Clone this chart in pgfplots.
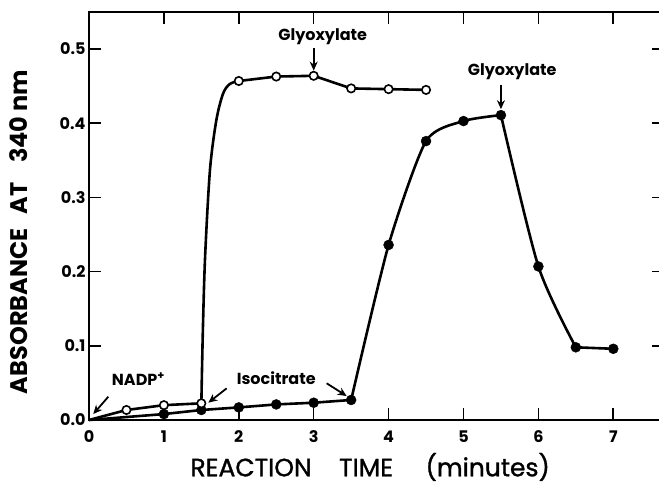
\documentclass[border=0pt]{standalone}
\usepackage{fontspec}
\setmainfont{Poppins}
\newfontfamily\pmed{Poppins}[FakeBold=1.2]
\usepackage{pgfplots}
\pgfplotsset{compat=1.18}
\usetikzlibrary{arrows.meta}
\begin{document}
\begin{tikzpicture}
\begin{axis}[
  scale only axis, width=575pt, height=408pt,
  xmin=0, xmax=7.677, ymin=0, ymax=0.55,
  xtick={0,...,7}, ytick={0,0.1,0.2,0.3,0.4,0.5},
  yticklabel style={/pgf/number format/.cd, fixed, fixed zerofill, precision=1},
  /pgf/number format/assume math mode=true,
  tick align=inside, major tick length=12pt,
  tick style={line width=1.6pt, black},
  axis line style={line width=2.2pt},
  ticklabel style={font=\fontsize{16}{18}\selectfont\bfseries},
  xticklabel style={yshift=-7pt},
  xlabel={REACTION\hspace{1.1em}TIME\hspace{1.3em}(minutes)},
  ylabel={ABSORBANCE\hspace{0.6em}AT\hspace{0.8em}340 nm},
  xlabel style={font=\fontsize{25}{28}\selectfont\pmed, at={(axis description cs:0.489,-0.115)}, anchor=center},
  ylabel style={font=\fontsize{24}{26}\selectfont\bfseries, at={(axis description cs:-0.122,0.461)}, anchor=center, rotate=0},
  clip=false,
]
% open-circle series: lines
\addplot[line width=2.6pt, black] coordinates {(0,0) (0.5,0.0135) (1,0.020) (1.5,0.0225)};
\addplot[line width=2.6pt, black, smooth, tension=0.5] coordinates {(1.5,0.0225) (1.52,0.12) (1.55,0.22) (1.615,0.337) (1.70,0.404) (1.79,0.44) (1.88,0.453) (2,0.457)};
\addplot[line width=2.6pt, black] coordinates {(2,0.457) (2.5,0.463) (3,0.464) (3.5,0.447) (4,0.446) (4.5,0.445)};
% filled series: lines
\addplot[line width=2.6pt, black] coordinates {(0,0) (1,0.008) (1.5,0.0135) (2,0.017) (2.5,0.021) (3,0.0233) (3.5,0.027)};
\addplot[line width=2.6pt, black, smooth, tension=0.4] coordinates {(3.5,0.027) (4,0.236) (4.5,0.376) (5,0.403) (5.5,0.411)};
\addplot[line width=2.6pt, black, smooth, tension=0.45] coordinates {(5.5,0.411) (6,0.207) (6.5,0.098)};
\addplot[line width=2.6pt, black] coordinates {(6.5,0.098) (7,0.096)};
% marks
\addplot[only marks, mark=*, mark size=5pt, black] coordinates {(1,0.008) (1.5,0.0135) (2,0.017) (2.5,0.021) (3,0.0233) (3.5,0.027) (4,0.236) (4.5,0.376) (5,0.403) (5.5,0.411) (6,0.207) (6.5,0.098) (7,0.096)};
\addplot[only marks, mark=*, mark size=4.2pt, mark options={fill=white, draw=black, line width=1.6pt}] coordinates {(0.5,0.0135) (1,0.020) (1.5,0.0225) (2,0.457) (2.5,0.463) (3,0.464) (3.5,0.447) (4,0.446) (4.5,0.445)};
% annotations
\node[font=\fontsize{16}{18}\selectfont\bfseries] at (axis cs:3.12,0.517) {Glyoxylate};
\node[font=\fontsize{16}{18}\selectfont\bfseries] at (axis cs:5.65,0.470) {Glyoxylate};
\node[font=\fontsize{16}{18}\selectfont\bfseries] at (axis cs:0.66,0.055) {NADP\textsuperscript{+}};
\node[font=\fontsize{16}{18}\selectfont\bfseries] at (axis cs:2.50,0.056) {Isocitrate};
\draw[line width=1.8pt, -{Stealth[length=9pt,width=8pt]}] (axis cs:3,0.502) -- (axis cs:3,0.471);
\draw[line width=1.8pt, -{Stealth[length=9pt,width=8pt]}] (axis cs:5.5,0.452) -- (axis cs:5.5,0.419);
\draw[line width=1.8pt, -{Stealth[length=9pt,width=8pt]}] (axis cs:0.258,0.0314) -- (axis cs:0.057,0.008);
\draw[line width=1.8pt, -{Stealth[length=9pt,width=8pt]}] (axis cs:1.838,0.0427) -- (axis cs:1.593,0.0233);
\draw[line width=1.8pt, -{Stealth[length=9pt,width=8pt]}] (axis cs:3.173,0.0495) -- (axis cs:3.44,0.0323);
\end{axis}
\pgfresetboundingbox
\path[use as bounding box] (-89pt,-71pt) rectangle (570pt,420pt);
\end{tikzpicture}
\end{document}
